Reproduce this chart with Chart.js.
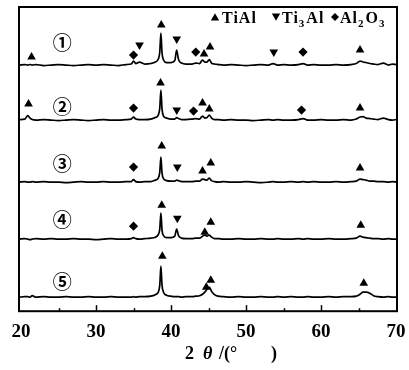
<!DOCTYPE html>
<html>
<head>
<meta charset="utf-8">
<script src="https://cdn.jsdelivr.net/npm/chart.js@4.4.1/dist/chart.umd.min.js"></script>
<style>
  body { margin: 0; background: #fff; }
  canvas { display: block; }
</style>
</head>
<body>
<canvas id="xrd" width="409" height="370"></canvas>
<script>
// 2theta sampling positions shared by all five patterns
var twoTheta = [19.75, 20.5, 20.9, 21.2, 21.5, 22.0, 23.0, 24.0, 25.0, 26.0,
	27.0, 28.0, 29.0, 30.0, 31.0, 32.0, 33.0, 34.0, 34.7, 35.0,
	35.3, 35.8, 36.5, 37.3, 37.9, 38.3, 38.5, 38.65, 38.8, 39.0,
	39.4, 40.0, 40.5, 40.75, 41.0, 41.4, 42.0, 42.8, 43.3, 43.8,
	44.2, 44.5, 44.8, 45.1, 45.4, 45.8, 46.3, 47.0, 48.0, 49.0,
	50.0, 51.0, 52.0, 53.0, 53.6, 54.2, 55.0, 56.0, 57.0, 57.6,
	58.2, 59.0, 60.0, 61.0, 62.0, 63.0, 64.0, 64.7, 65.2, 65.6,
	66.0, 66.5, 67.0, 67.6, 68.3, 69.0, 69.5, 70.1];

// intensities (arbitrary units) of samples 1..5
var pattern1 = [0, 0.5, 0, 0.5, 0, 0.5, -0.5, 0, 0.5, 0,
	-0.5, 0, 0.5, 0, 0.5, 0, -0.5, 0.5, 1, 4,
	1.5, 3, 1, 1.5, 3, 6, 13, 32, 12, 5,
	2.5, 2.5, 4.5, 15, 5.5, 2, 1, 1, 2, 1.5,
	5, 3, 3, 5.5, 2, 1, 0.5, 0, 0.5, 0,
	-0.5, 0, 0.5, 0, 1.5, 0, 0.5, 0, 0.5, 1.5,
	0, 0.5, 0, 0, 0.5, 0, 0.5, 1.5, 4, 3,
	2.5, 1.5, 1, 0.5, 2, 0, 1, 0.5];
var pattern2 = [0.5, 1, 4.5, 2, 0.5, 0, 0.5, 0, -0.5, 0,
	0.5, 0, -0.5, 0, 0.5, 0, 0, 0.5, 1, 3,
	1, 0.5, 0.5, 1, 2.5, 5, 12, 30, 11, 4,
	2, 1, 1, 2.5, 1.5, 0.5, 0.5, 1, 1.5, 1,
	4, 2, 2.5, 5, 2, 0.5, 0.5, 0, 0.5, 0,
	0, -0.5, 0, 0.5, 0, 0.5, 0, 0, 0.5, 1.5,
	0, 0, 0.5, 0, 0, 0.5, 0, 1, 3, 3.5,
	2, 1.5, 1, 0.5, 2, 0.5, 0, 0.5];
var pattern3 = [0, 0.5, 0, 0, 0.5, 0, 0.5, 0, 0, -0.5,
	0, 0.5, 0, 0, 0.5, 0, 0, 0.5, 0.5, 2.5,
	0.5, 0, 0.5, 0.5, 2, 4, 10, 25, 9, 3.5,
	1.5, 1, 1, 2, 1.5, 0.5, 0.5, 0.5, 1, 1,
	3, 2.5, 2, 4, 1.5, 0.5, 0, 0.5, 0, 0,
	0.5, 0, -0.5, 0, 0.5, 0, 0, 0.5, 0, 0.5,
	0, 0.5, 0, 0, 0.5, 0, 0.5, 1, 3, 2.5,
	2, 1, 1, 0.5, 0.5, 0, 0.5, 0];
var pattern4 = [0, 0.5, 0, -0.5, 0, 0.5, 0, 0.5, 0, 0,
	0.5, 0, 0, -0.5, 0, 0.5, 0, 0, 0.5, 1.5,
	0.5, 0, 0.5, 1, 2, 4.5, 10, 26, 9, 3.5,
	1.5, 1.5, 3, 10, 3.5, 1, 0.5, 0.5, 1, 1,
	3, 4, 3, 4, 2, 0.5, 0.5, 0, 0, 0.5,
	0, 0, 0.5, 0, 0, 0.5, 0, 0, 0.5, 0,
	0.5, 0, 0, 0.5, 0, 0, 0.5, 1, 3, 2,
	1.5, 1, 0.5, 0.5, 0, 0.5, 0, 0];
var pattern5 = [0, 0.5, 0.5, 0, 1.5, 0, 0.5, 0, 0, 0.5,
	0, 0, 0.5, 0, 0, 0.5, 0, 0, 0, 0.5,
	0, 0.5, 0.5, 1, 2.5, 5, 12, 31, 12, 5,
	2, 1, 0.5, 0.5, 0.5, 0, 0.5, 0.5, 1, 1.5,
	3, 5, 8, 10, 6, 2.5, 1, 0.5, 0, 0.5,
	0, 0, 0.5, 0, 0, 0.5, 0, 0.5, 0, 0,
	0.5, 0, 0, 0.5, 0, 0.5, 0.5, 1, 3, 5,
	5, 4, 1.5, 0.5, 0, 0.5, 0, 0];
var patterns = [pattern1, pattern2, pattern3, pattern4, pattern5];

// vertical stacking offset of each pattern
var offsets = [246, 191, 129, 72, 14];
var sampleLabels = ['\u2460', '\u2461', '\u2462', '\u2463', '\u2464'];
var sampleLabelY = [268, 204, 147, 91, 29];
var sampleLabelX = 25.5;

// phase markers (2theta, height)
var tiAlX = [21.4, 38.7, 44.4, 45.2, 65.2, 21.0, 38.6, 44.2, 45.1, 65.2,
	38.76, 44.2, 45.3, 65.2, 38.76, 44.5, 45.3, 65.3, 38.84, 44.7, 45.3, 65.7];
var tiAlY = [254, 286, 257, 264, 261, 207, 228, 208, 202, 203,
	165, 140, 148, 143, 106, 79, 89, 86, 55, 24, 31, 28];
var ti3AlX = [35.8, 40.76, 53.7, 40.76, 40.84, 40.84];
var ti3AlY = [266, 272, 259, 201, 144, 93];
var al2o3X = [35.0, 43.3, 57.6, 35.0, 43.0, 57.4, 35.0, 35.0];
var al2o3Y = [256, 259, 259, 203, 200, 201, 144, 85];

var xTicks = [20, 30, 40, 50, 60, 70];
var xMinorTicks = [25, 30, 35, 40, 45, 50, 55, 60, 65];

function toPoints(xs, ys, off) {
	return xs.map(function(v, i){ return {x: v, y: ys[i] + (off || 0)}; });
}

var datasets = patterns.map(function(p, i){
	return {
		data: toPoints(twoTheta, p, offsets[i]),
		showLine: true,
		borderColor: '#000',
		borderWidth: 1.7,
		pointRadius: 0,
		cubicInterpolationMode: 'monotone'
	};
});
datasets.push({ data: toPoints(tiAlX, tiAlY), pointStyle: 'triangle', pointRadius: 5, backgroundColor: '#000', borderColor: '#000', borderWidth: 0 });
datasets.push({ data: toPoints(ti3AlX, ti3AlY), pointStyle: 'triangle', rotation: 180, pointRadius: 5, backgroundColor: '#000', borderColor: '#000', borderWidth: 0 });
datasets.push({ data: toPoints(al2o3X, al2o3Y), pointStyle: 'rectRot', pointRadius: 4.6, backgroundColor: '#000', borderColor: '#000', borderWidth: 0 });

function tri(ctx, cx, cy, r, down) {
	var s = down ? -1 : 1;
	ctx.beginPath();
	ctx.moveTo(cx, cy - s * r);
	ctx.lineTo(cx + r * 0.866, cy + s * r * 0.5);
	ctx.lineTo(cx - r * 0.866, cy + s * r * 0.5);
	ctx.closePath();
	ctx.fill();
}

var decorations = {
	id: 'decorations',
	afterDraw: function(chart) {
		var ctx = chart.ctx, a = chart.chartArea;
		var x = chart.scales.x, y = chart.scales.y;
		ctx.save();
		ctx.strokeStyle = '#000';
		ctx.fillStyle = '#000';

		// frame
		ctx.lineWidth = 2;
		ctx.strokeRect(a.left, a.top, a.right - a.left, a.bottom - a.top);

		// inward ticks on the bottom axis
		ctx.lineWidth = 1.5;
		xMinorTicks.forEach(function(v){
			var px = Math.round(x.getPixelForValue(v)) + 0.5;
			var len = v % 10 === 0 ? 6 : 3;
			ctx.beginPath();
			ctx.moveTo(px, a.bottom);
			ctx.lineTo(px, a.bottom - len);
			ctx.stroke();
		});

		// sample numbers
		ctx.font = 'bold 19px "Noto Sans CJK SC", "DejaVu Sans"';
		ctx.textAlign = 'center';
		ctx.textBaseline = 'middle';
		sampleLabels.forEach(function(t, i){
			ctx.fillText(t, x.getPixelForValue(sampleLabelX), y.getPixelForValue(sampleLabelY[i]));
		});

		// legend with subscripts
		var big = 'bold 16px "Liberation Serif"', small = 'bold 11px "Liberation Serif"';
		var base = a.top + 16, cx;
		ctx.textAlign = 'left';
		ctx.textBaseline = 'alphabetic';
		ctx.letterSpacing = '1px';
		function run(parts) {
			parts.forEach(function(p){
				ctx.font = p[1] ? small : big;
				ctx.fillText(p[0], cx, base + (p[1] ? 4 : 0));
				cx += ctx.measureText(p[0]).width + (p[1] ? 1 : 0);
			});
		}
		tri(ctx, a.right - 182, base - 5, 4.8, false);
		cx = a.right - 175;
		run([['TiAl', 0]]);
		tri(ctx, a.right - 121, base - 7, 4.8, true);
		cx = a.right - 115;
		run([['Ti', 0], ['3', 1], ['Al', 0]]);
		var dx = a.right - 62;
		ctx.beginPath();
		ctx.moveTo(dx, base - 10); ctx.lineTo(dx + 4, base - 6);
		ctx.lineTo(dx, base - 2); ctx.lineTo(dx - 4, base - 6);
		ctx.closePath(); ctx.fill();
		cx = a.right - 57;
		run([['Al', 0], ['2', 1], ['O', 0], ['3', 1]]);
		ctx.letterSpacing = '0px';

		// axis title
		var tx = (a.left + a.right) / 2 - 23, ty = 359;
		ctx.font = 'bold 18px "Liberation Serif"';
		ctx.fillText('2', tx, ty);
		ctx.font = 'italic bold 18px "Liberation Serif"';
		ctx.fillText('\u03b8', tx + 18, ty);
		ctx.font = 'bold 18px "Liberation Serif"';
		ctx.fillText('/(\u00b0', tx + 34, ty);
		ctx.fillText(')', tx + 86, ty);
		ctx.restore();
	}
};

var chart = new Chart(document.getElementById('xrd').getContext('2d'), {
	type: 'scatter',
	data: { datasets: datasets },
	options: {
		responsive: false,
		animation: false,
		layout: { padding: { left: 19, right: 12, top: 7, bottom: 25 } },
		plugins: { legend: { display: false }, tooltip: { enabled: false } },
		scales: {
			x: {
				type: 'linear',
				min: 19.73,
				max: 70.13,
				afterBuildTicks: function(scale){
					scale.ticks = xTicks.map(function(v){ return {value: v}; });
				},
				grid: { display: false, drawTicks: true, tickLength: 7 },
				border: { display: false },
				ticks: {
					color: '#000',
					padding: 2,
					maxRotation: 0,
					autoSkip: false,
					font: { family: '"Liberation Serif"', size: 19, weight: 'bold' }
				}
			},
			y: { display: false, min: 0, max: 304 }
		}
	},
	plugins: [decorations]
});
</script>
</body>
</html>
